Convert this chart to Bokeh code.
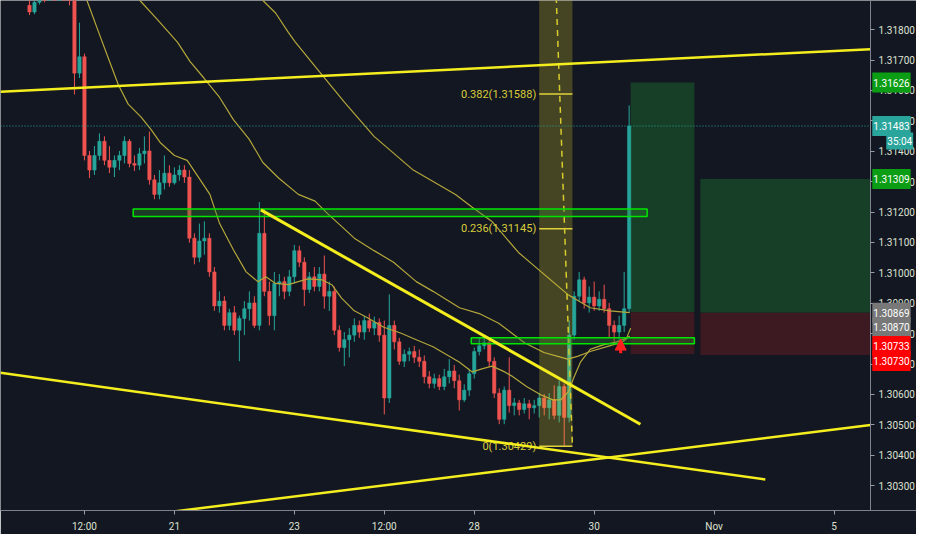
from bokeh.plotting import figure
from bokeh.models import (Range1d, FixedTicker, NumeralTickFormatter, Label, Arrow, NormalHead,
                          LinearAxis)
from bokeh.embed import file_html
from bokeh.resources import INLINE
from bokeh.core.properties import value

# ---------------- data ----------------
# time axis in trading hours, 0 = "21"
time_ticks = [-36, 0, 48, 84, 120, 168, 216, 264]
time_labels = ["12:00", "21", "23", "12:00", "28", "30", "Nov", "5"]
price_ticks = [1.303, 1.304, 1.305, 1.306, 1.307, 1.308, 1.309, 1.310,
               1.311, 1.312, 1.313, 1.314, 1.315, 1.316, 1.317, 1.318]
x_view = [-69.6, 297.0]
scale_hour = 278.6
price_view = [1.30218, 1.31896]

candle_start_hour = -58
candle_step_hours = 2
opens = [1.31880, 1.31858, 1.31890, 1.31928, 1.31921, 1.31960, 1.31944, 1.31966, 1.31934, 1.31896,
         1.31657, 1.31711, 1.31386, 1.31338, 1.31386, 1.31433, 1.31370, 1.31347, 1.31370, 1.31386,
         1.31433, 1.31360, 1.31354, 1.31392, 1.31401, 1.31306, 1.31258, 1.31296, 1.31328, 1.31296,
         1.31322, 1.31338, 1.31315, 1.31114, 1.31051, 1.31105, 1.31114, 1.31003, 1.30891, 1.30907,
         1.30827, 1.30869, 1.30811, 1.30850, 1.30882, 1.30901, 1.30827, 1.31130, 1.30939, 1.30859,
         1.30965, 1.30971, 1.30939, 1.30987, 1.31073, 1.31035, 1.30945, 1.30987, 1.30955, 1.30996,
         1.30923, 1.30939, 1.30811, 1.30754, 1.30780, 1.30795, 1.30827, 1.30805, 1.30843, 1.30818,
         1.30837, 1.30795, 1.30588, 1.30827, 1.30773, 1.30709, 1.30732, 1.30741, 1.30722, 1.30709,
         1.30658, 1.30636, 1.30652, 1.30626, 1.30658, 1.30677, 1.30645, 1.30582, 1.30614, 1.30668,
         1.30741, 1.30760, 1.30770, 1.30709, 1.30604, 1.30518, 1.30614, 1.30563, 1.30572, 1.30550,
         1.30569, 1.30556, 1.30563, 1.30588, 1.30556, 1.30582, 1.30531, 1.30626, 1.30524, 1.30795,
         1.30923, 1.30977, 1.30901, 1.30920, 1.30891, 1.30913, 1.30882, 1.30827, 1.30805, 1.30827,
         1.30882]
highs = [1.31912, 1.31896, 1.31944, 1.31953, 1.31976, 1.31992, 1.31985, 1.31992, 1.31960, 1.31912,
         1.31823, 1.31721, 1.31401, 1.31417, 1.31459, 1.31449, 1.31417, 1.31386, 1.31401, 1.31449,
         1.31440, 1.31386, 1.31411, 1.31449, 1.31465, 1.31322, 1.31338, 1.31386, 1.31354, 1.31347,
         1.31354, 1.31354, 1.31338, 1.31130, 1.31162, 1.31169, 1.31130, 1.31019, 1.30939, 1.30923,
         1.30882, 1.30891, 1.30859, 1.30907, 1.30939, 1.30923, 1.31233, 1.31210, 1.30971, 1.31003,
         1.30996, 1.30987, 1.31009, 1.31092, 1.31089, 1.31051, 1.31003, 1.31019, 1.31019, 1.31057,
         1.30971, 1.30955, 1.30827, 1.30805, 1.30818, 1.30850, 1.30843, 1.30859, 1.30866, 1.30856,
         1.30850, 1.30843, 1.30929, 1.30843, 1.30786, 1.30748, 1.30754, 1.30760, 1.30748, 1.30728,
         1.30677, 1.30668, 1.30665, 1.30684, 1.30716, 1.30697, 1.30665, 1.30633, 1.30684, 1.30754,
         1.30786, 1.30786, 1.30780, 1.30722, 1.30620, 1.30626, 1.30722, 1.30588, 1.30582, 1.30588,
         1.30582, 1.30582, 1.30604, 1.30601, 1.30604, 1.30630, 1.30645, 1.30636, 1.30843, 1.30939,
         1.31003, 1.30987, 1.30955, 1.30971, 1.30939, 1.30961, 1.30901, 1.30843, 1.30859, 1.31003,
         1.31551]
lows = [1.31848, 1.31851, 1.31883, 1.31890, 1.31912, 1.31934, 1.31928, 1.31921, 1.31880, 1.31587,
        1.31641, 1.31370, 1.31312, 1.31322, 1.31370, 1.31354, 1.31328, 1.31315, 1.31338, 1.31360,
        1.31347, 1.31335, 1.31338, 1.31360, 1.31290, 1.31242, 1.31242, 1.31274, 1.31283, 1.31290,
        1.31303, 1.31296, 1.31099, 1.31028, 1.31035, 1.31060, 1.30987, 1.30875, 1.30869, 1.30811,
        1.30811, 1.30795, 1.30709, 1.30795, 1.30843, 1.30818, 1.30811, 1.30923, 1.30827, 1.30811,
        1.30923, 1.30913, 1.30923, 1.30965, 1.31019, 1.30891, 1.30933, 1.30939, 1.30939, 1.30882,
        1.30875, 1.30795, 1.30741, 1.30693, 1.30722, 1.30773, 1.30786, 1.30780, 1.30805, 1.30795,
        1.30773, 1.30534, 1.30572, 1.30748, 1.30697, 1.30690, 1.30709, 1.30703, 1.30690, 1.30636,
        1.30620, 1.30620, 1.30614, 1.30614, 1.30636, 1.30620, 1.30547, 1.30575, 1.30594, 1.30652,
        1.30728, 1.30748, 1.30690, 1.30588, 1.30502, 1.30502, 1.30540, 1.30531, 1.30531, 1.30537,
        1.30518, 1.30537, 1.30524, 1.30531, 1.30518, 1.30518, 1.30508, 1.30429, 1.30508, 1.30780,
        1.30907, 1.30882, 1.30869, 1.30875, 1.30875, 1.30869, 1.30789, 1.30773, 1.30780, 1.30805,
        1.30869]
closes = [1.31858, 1.31890, 1.31928, 1.31921, 1.31960, 1.31944, 1.31966, 1.31934, 1.31896, 1.31657,
          1.31711, 1.31386, 1.31338, 1.31386, 1.31433, 1.31370, 1.31347, 1.31370, 1.31386, 1.31433,
          1.31360, 1.31354, 1.31392, 1.31401, 1.31306, 1.31258, 1.31296, 1.31328, 1.31296, 1.31322,
          1.31338, 1.31315, 1.31114, 1.31051, 1.31105, 1.31114, 1.31003, 1.30891, 1.30907, 1.30827,
          1.30869, 1.30811, 1.30850, 1.30882, 1.30901, 1.30827, 1.31130, 1.30939, 1.30859, 1.30965,
          1.30971, 1.30939, 1.30987, 1.31073, 1.31035, 1.30945, 1.30987, 1.30955, 1.30996, 1.30923,
          1.30939, 1.30811, 1.30754, 1.30780, 1.30795, 1.30827, 1.30805, 1.30843, 1.30818, 1.30837,
          1.30795, 1.30588, 1.30827, 1.30773, 1.30709, 1.30732, 1.30741, 1.30722, 1.30709, 1.30658,
          1.30636, 1.30652, 1.30626, 1.30658, 1.30677, 1.30645, 1.30582, 1.30614, 1.30668, 1.30741,
          1.30760, 1.30770, 1.30709, 1.30604, 1.30518, 1.30614, 1.30563, 1.30572, 1.30550, 1.30569,
          1.30556, 1.30563, 1.30588, 1.30556, 1.30582, 1.30531, 1.30626, 1.30524, 1.30795, 1.30923,
          1.30977, 1.30901, 1.30920, 1.30891, 1.30913, 1.30882, 1.30827, 1.30805, 1.30827, 1.30882,
          1.31483]

fast_ma_hours = [-36.2, -35.0, -30.3, -26.4, -22.4, -18.5, -13.4, -9.4, -5.5, 0, 5.1, 9.0, 14.2,
                 18.1, 23.6, 28.7, 33.4, 36.6, 40.5, 45.6, 49.6, 53.5, 59.0, 63.0, 66.9, 72.0, 77.1,
                 83.8, 90.5, 96.8, 103.5, 110.2, 114.1, 119.2, 123.1, 127.1, 132.2, 134.9, 140.9,
                 146.8, 151.5, 154.6, 157.8, 159.7, 162.5, 166.4, 171.5, 177.0, 181.0, 182.6]
fast_ma = [1.31928, 1.31896, 1.31791, 1.31705, 1.31618, 1.31555, 1.31513, 1.31472, 1.31427, 1.31386,
           1.31370, 1.31322, 1.31258, 1.31162, 1.31076, 1.31003, 1.30971, 1.30987, 1.30965, 1.30961,
           1.30971, 1.30980, 1.30977, 1.30961, 1.30917, 1.30875, 1.30853, 1.30821, 1.30802, 1.30780,
           1.30757, 1.30725, 1.30706, 1.30674, 1.30684, 1.30693, 1.30674, 1.30661, 1.30626, 1.30598,
           1.30582, 1.30582, 1.30610, 1.30652, 1.30706, 1.30748, 1.30763, 1.30773, 1.30786, 1.30818]
mid_ma_hours = [-16.5, -13.8, -6.7, 1.2, 6.3, 11.8, 18.1, 23.6, 29.9, 35.4, 41.7, 49.6, 56.3, 61.4,
                66.9, 72.0, 79.9, 87.7, 96.8, 103.5, 114.1, 122.0, 129.8, 140.1, 147.9, 157.4,
                161.3, 166.4, 173.1, 179.4, 182.2]
mid_ma = [1.31928, 1.31896, 1.31832, 1.31759, 1.31695, 1.31641, 1.31577, 1.31504, 1.31440, 1.31363,
          1.31312, 1.31258, 1.31236, 1.31194, 1.31153, 1.31114, 1.31073, 1.31035, 1.30971, 1.30939,
          1.30885, 1.30866, 1.30834, 1.30770, 1.30738, 1.30716, 1.30725, 1.30741, 1.30757, 1.30773,
          1.30792]
slow_ma_hours = [32.7, 35.4, 40.5, 45.6, 48.4, 56.3, 68.1, 79.9, 95.6, 112.5, 119.2, 127.1, 137.7,
                 146.8, 157.4, 166.4, 174.3, 182.2]
slow_ma = [1.31928, 1.31896, 1.31855, 1.31791, 1.31759, 1.31679, 1.31561, 1.31449, 1.31338, 1.31258,
           1.31216, 1.31169, 1.31067, 1.31003, 1.30929, 1.30885, 1.30875, 1.30869]

upper_channel_hours = [-69.6, 278.6]
upper_channel_prices = [1.31596, 1.31736]
lower_desc_hours = [-69.6, 236.5]
lower_desc_prices = [1.30671, 1.30320]
lower_asc_hours = [-69.6, 278.6]
lower_asc_prices = [1.30144, 1.30499]
wedge_top_hours = [34.6, 186.5]
wedge_top_prices = [1.31207, 1.30502]

zone_left = [-16.5, 118.8]
zone_right = [189.2, 208.1]
zone_top = [1.31210, 1.30786]
zone_bottom = [1.31185, 1.30767]

fib_start_hour = 146.0
fib_end_hour = 159.3
fib_high = 1.33463
fib_low = 1.30429
fib_levels = [0.0, 0.236, 0.382]

long_left = [182.6, 210.5]
long_right = [208.1, 278.6]
long_entry = [1.30870, 1.30869]
long_target = [1.31626, 1.31309]
long_stop = [1.30733, 1.30730]

current_price = 1.31483
countdown = "35:04"
arrow_hour = 178.6
arrow_tip_price = 1.30782
arrow_base_price = 1.30735

# ---------------- styling ----------------
BG = "#131722"
UP = "#26a69a"
DOWN = "#ef5350"
YEL = "#f4ee1e"
MA_COL = "#b3a63a"
FIB_COL = "#d9cc3a"
FONT = "Roboto"

p = figure(width=916, height=534, output_backend="svg", toolbar_location=None,
           x_range=Range1d(x_view[0], x_view[1]), y_range=Range1d(price_view[0], price_view[1]),
           y_axis_location=None, background_fill_color=BG, border_fill_color=BG,
           min_border_left=0, min_border_top=0, min_border_right=0, min_border_bottom=24)
p.outline_line_color = None
p.xgrid.visible = False
p.ygrid.visible = False

price_axis = LinearAxis(fixed_location=scale_hour)
p.add_layout(price_axis, "right")

for ax in (p.xaxis[0], price_axis):
    ax.axis_line_color = "#7f828c"
    ax.major_tick_line_color = "#9a9da6"
    ax.minor_tick_line_color = None
    ax.major_tick_in = 0
    ax.major_tick_out = 4
    ax.major_label_text_color = "#dfe2d2"
    ax.major_label_text_font = FONT
    ax.major_label_text_font_size = "10px"
price_axis.ticker = FixedTicker(ticks=price_ticks)
price_axis.formatter = NumeralTickFormatter(format="0.00000")
price_axis.major_label_standoff = 4
p.xaxis.ticker = FixedTicker(ticks=time_ticks)
p.xaxis.major_label_overrides = dict(zip(time_ticks, time_labels))
p.xaxis.major_label_standoff = 6

# position tools
p.quad(left=long_left, right=long_right, bottom=long_entry, top=long_target,
       fill_color="#173f27", line_color=None)
p.quad(left=long_left, right=long_right, bottom=long_stop, top=long_entry,
       fill_color="#3d1a22", line_color=None)

# candles
hours = [candle_start_hour + candle_step_hours * i for i in range(len(closes))]
colors = [UP if c >= o else DOWN for o, c in zip(opens, closes)]
tops = [max(o, c) for o, c in zip(opens, closes)]
bottoms = [min(o, c) for o, c in zip(opens, closes)]
p.segment(x0=hours, y0=lows, x1=hours, y1=highs, line_color=colors, line_width=1)
p.vbar(x=hours, width=1.35, top=tops, bottom=bottoms, fill_color=colors, line_color=colors,
       line_width=0.5)

# moving averages
p.line(fast_ma_hours, fast_ma, line_color=MA_COL, line_width=1.2)
p.line(mid_ma_hours, mid_ma, line_color=MA_COL, line_width=1.2)
p.line(slow_ma_hours, slow_ma, line_color=MA_COL, line_width=1.2)

# fibonacci retracement
fib_prices = [round(fib_low + lv * (fib_high - fib_low), 5) for lv in fib_levels]
fib_texts = [f"{lv:g}({pr:.5f})" for lv, pr in zip(fib_levels, fib_prices)]
p.quad(left=[fib_start_hour], right=[fib_end_hour], bottom=[fib_low], top=[fib_high],
       fill_color="#e8d82c", fill_alpha=0.24, line_color=None)
p.segment(x0=[fib_start_hour] * len(fib_prices), x1=[fib_end_hour] * len(fib_prices),
          y0=fib_prices, y1=fib_prices, line_color="#e2d23a", line_width=1.5)
p.line([fib_start_hour, fib_end_hour], [fib_high, fib_low], line_color="#d8cc2c",
       line_width=1.5, line_dash="6 5")
p.text(x=[fib_start_hour] * len(fib_prices), y=fib_prices, text=fib_texts,
       text_align="right", text_baseline="middle", x_offset=-3,
       text_color=FIB_COL, text_font=value(FONT), text_font_size="11px")

# zones
p.quad(left=zone_left, right=zone_right, top=zone_top, bottom=zone_bottom,
       fill_color="#2e7d32", fill_alpha=0.35, line_color="#00e600", line_width=1.5)

# trend lines
p.line(upper_channel_hours, upper_channel_prices, line_color=YEL, line_width=2.5)
p.line(lower_desc_hours, lower_desc_prices, line_color=YEL, line_width=2.5)
p.line(lower_asc_hours, lower_asc_prices, line_color=YEL, line_width=2.5)
p.line(wedge_top_hours, wedge_top_prices, line_color=YEL, line_width=3)

# current price line
p.line([x_view[0], scale_hour], [current_price, current_price], line_color=UP,
       line_dash="1 2", line_width=1)

# marker arrow
p.add_layout(Arrow(x_start=arrow_hour, y_start=arrow_base_price, x_end=arrow_hour,
                   y_end=arrow_tip_price, line_color="#ff1f1f", line_width=3,
                   end=NormalHead(size=11, fill_color="#ff1f1f", line_color="#ff1f1f")))

# price tags on the scale
tag_x = scale_hour + 0.7
def tag(price, text, bg, yoff=0, x=tag_x, pad=(1, 6)):
    p.add_layout(Label(x=x, y=price, text=text, text_font=FONT, text_font_size="10px",
                       text_color="#ffffff", text_baseline="middle", text_align="left",
                       background_fill_color=bg, padding=pad, y_offset=yoff))

tag(long_target[0], f"{long_target[0]:.5f}", "#0b9d14")
tag(current_price, f"{current_price:.5f}", "#2aa59b")
tag(current_price, countdown, "#2aa59b", yoff=-15, x=tag_x + 5.6, pad=(1, 3))
tag(long_target[1], f"{long_target[1]:.5f}", "#0b9d14")
tag(long_entry[1], f"{long_entry[1]:.5f}", "#787878")
tag(long_entry[0], f"{long_entry[0]:.5f}", "#787878", yoff=-15)
tag(long_stop[0], f"{long_stop[0]:.5f}", "#ff0000", yoff=8)
tag(long_stop[1], f"{long_stop[1]:.5f}", "#ff0000", yoff=-6)

open("out.html", "w").write(file_html(p, INLINE))
